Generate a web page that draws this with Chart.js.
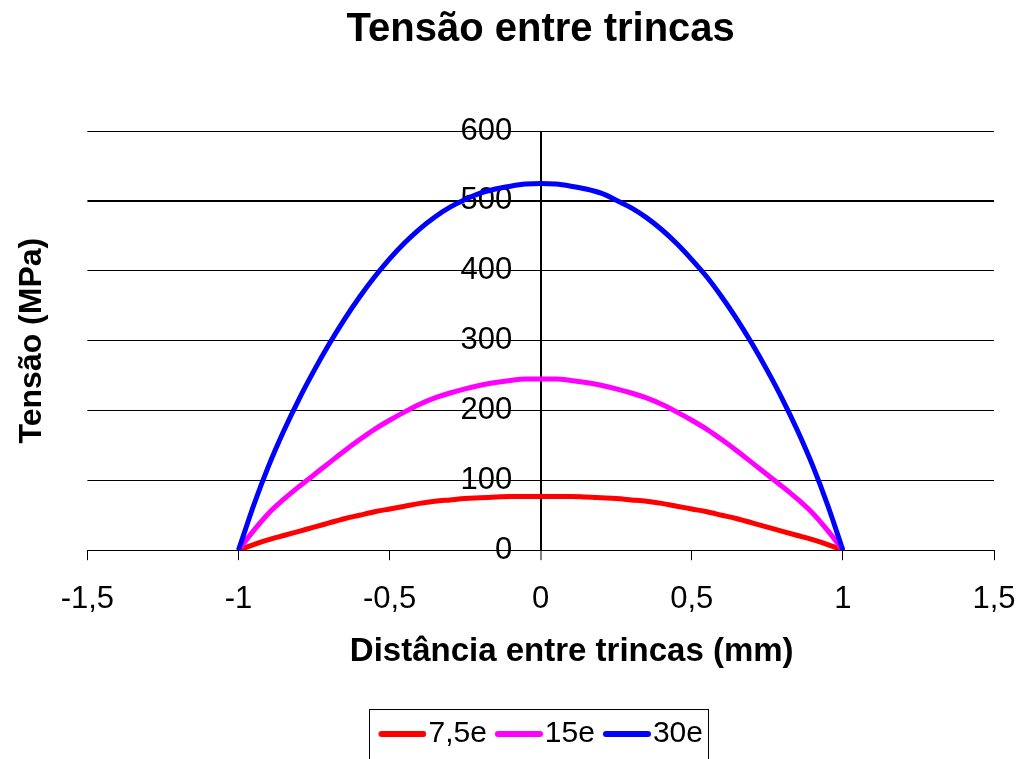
<!DOCTYPE html>
<html>
<head>
<meta charset="utf-8">
<script src="https://cdn.jsdelivr.net/npm/chart.js@4.4.1/dist/chart.umd.min.js"></script>
<style>
html,body{margin:0;padding:0;background:#fff;overflow:hidden;}
#wrap{width:1023px;height:759px;position:relative;}
canvas{display:block;}
</style>
</head>
<body>
<div id="wrap"><canvas id="c"></canvas></div>
<script>
const titleText = "Tensão entre trincas";
const xTitle = "Distância entre trincas (mm)";
const yTitle = "Tensão (MPa)";
const seriesNames = ["7,5e", "15e", "30e"];
const seriesColors = ["#ff0000", "#ff00ff", "#0000ff"];

const xs = [-1, -0.95, -0.9, -0.85, -0.8, -0.75, -0.7, -0.65, -0.6, -0.55, -0.5, -0.45, -0.4, -0.35, -0.3, -0.25, -0.2, -0.15, -0.1, -0.05,
  0, 0.05, 0.1, 0.15, 0.2, 0.25, 0.3, 0.35, 0.4, 0.45, 0.5, 0.55, 0.6, 0.65, 0.7, 0.75, 0.8, 0.85, 0.9, 0.95, 1];

const s7_5e = [0, 8, 15, 21, 27, 33, 39, 45, 50, 55, 59, 63, 67, 70, 72, 74, 75, 76, 77, 77,
  77, 77, 77, 76, 75, 74, 72, 70, 67, 63, 59, 55, 50, 45, 39, 33, 27, 21, 15, 8, 0];
const s15e = [0, 28, 53, 73, 91, 108, 125, 142, 158, 173, 186, 198, 209, 218, 225, 231, 236, 240, 243, 245,
  245, 245, 243, 240, 236, 231, 225, 218, 209, 198, 186, 173, 158, 142, 125, 108, 91, 73, 53, 28, 0];
const s30e = [0, 64, 121, 171, 216, 257, 295, 330, 362, 391, 417, 440, 460, 477, 491, 502, 511, 517, 521, 524,
  525, 524, 521, 517, 511, 501, 490, 476, 459, 439, 416, 391, 362, 330, 295, 257, 216, 171, 121, 64, 0];

const xTicks = [-1.5, -1, -0.5, 0, 0.5, 1, 1.5];
const yTicks = [0, 100, 200, 300, 400, 500, 600];

const FONT = "'Liberation Sans', Arial, sans-serif";

function legendLine(color) {
  const c = document.createElement('canvas');
  c.width = 61; c.height = 10;
  const g = c.getContext('2d');
  g.strokeStyle = color; g.lineWidth = 6; g.lineCap = 'round';
  g.beginPath(); g.moveTo(16, 5); g.lineTo(58, 5); g.stroke();
  return c;
}

const allSeries = [s7_5e, s15e, s30e];
const datasets = allSeries.map((arr, i) => ({
  label: seriesNames[i],
  data: arr.map((v, k) => ({x: xs[k], y: v})),
  xAxisID: 'x',
  yAxisID: 'y',
  borderColor: seriesColors[i],
  backgroundColor: seriesColors[i],
  borderWidth: 5,
  pointRadius: 0,
  pointHoverRadius: 0,
  pointStyle: legendLine(seriesColors[i]),
  cubicInterpolationMode: 'monotone',
  fill: false,
  order: 2 - i
}));

const legendBorder = {
  id: 'legendBorder',
  afterDraw(chart) {
    const boxes = chart.legend && chart.legend.legendHitBoxes;
    if (!boxes || !boxes.length) return;
    const first = boxes[0], last = boxes[boxes.length - 1];
    const cy = first.top + first.height / 2;
    const ctx = chart.ctx;
    ctx.save();
    ctx.strokeStyle = '#000';
    ctx.lineWidth = 1;
    ctx.strokeRect(Math.round(first.left - 9) + 0.5, Math.round(cy - 25) + 0.5,
      Math.round(last.left + last.width + 6 - (first.left - 9)), 50);
    ctx.restore();
  }
};

const noSidePad = (s) => { s.paddingLeft = 0; s.paddingRight = 0; };

// the x-axis title sits a little right of the axis centre in the reference
const shiftXTitle = (s) => {
  if (s._titleShifted) return;
  const orig = s.drawTitle.bind(s);
  s.drawTitle = function () {
    s.ctx.save();
    s.ctx.translate(31, 0);
    orig();
    s.ctx.restore();
  };
  s._titleShifted = true;
};

new Chart(document.getElementById('c'), {
  type: 'line',
  data: { datasets },
  plugins: [legendBorder],
  options: {
    responsive: true,
    maintainAspectRatio: false,
    animation: false,
    events: [],
    layout: { padding: { left: 0, right: 29, top: 0, bottom: 0 } },
    plugins: {
      title: {
        display: true, text: titleText, color: '#000', fullSize: false,
        font: { family: FONT, size: 40, weight: 'bold' },
        padding: { top: 6, bottom: 77 }
      },
      legend: {
        display: true, position: 'bottom', fullSize: false,
        labels: {
          usePointStyle: true, pointStyleWidth: 35, boxHeight: 10,
          color: '#000', padding: 8,
          font: { family: FONT, size: 30 },
          sort: (a, b) => a.datasetIndex - b.datasetIndex
        }
      },
      tooltip: { enabled: false }
    },
    scales: {
      x: {
        type: 'linear', min: -1.5, max: 1.5,
        afterBuildTicks: (s) => { s.ticks = xTicks.map(v => ({value: v})); },
        afterFit: noSidePad,
        afterUpdate: shiftXTitle,
        ticks: {
          color: '#000', padding: 21,
          font: { family: FONT, size: 31 },
          callback: (v) => String(v).replace('.', ',')
        },
        grid: {
          drawOnChartArea: true,
          color: (ctx) => (ctx.tick && ctx.tick.value === 0 ? '#000' : 'rgba(0,0,0,0)'),
          lineWidth: (ctx) => (ctx.tick && ctx.tick.value === 0 ? 2 : 1),
          tickColor: '#000', tickWidth: 1, tickLength: 10
        },
        border: { color: '#000', width: 1 },
        title: {
          display: true, text: xTitle, color: '#000',
          font: { family: FONT, size: 33, weight: 'bold' },
          padding: { top: -7, bottom: 39 }
        }
      },
      y: {
        type: 'linear', min: 0, max: 600,
        position: { x: -0.094 },
        afterBuildTicks: (s) => { s.ticks = yTicks.map(v => ({value: v})); },
        afterFit: noSidePad,
        ticks: {
          color: '#000', padding: 0,
          font: { family: FONT, size: 31 }
        },
        grid: {
          color: '#000', drawTicks: false,
          lineWidth: (ctx) => (ctx.tick && ctx.tick.value === 500 ? 2 : 1)
        },
        border: { display: false }
      },
      yTitle: {
        type: 'linear', min: 0, max: 600, position: 'left',
        ticks: { display: false },
        grid: { display: false, drawTicks: false },
        border: { display: false },
        title: {
          display: true, text: yTitle, color: '#000',
          font: { family: FONT, size: 32, weight: 'bold' },
          padding: { top: 13, bottom: 36 }
        }
      }
    }
  }
});
</script>
</body>
</html>
